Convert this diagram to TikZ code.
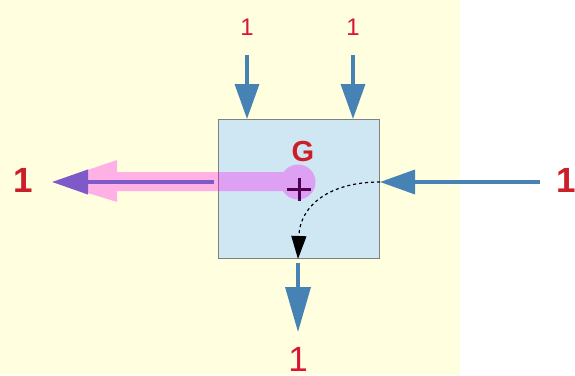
\documentclass[tikz,border=0pt]{standalone}
\usepackage{fontspec}
\setmainfont{Liberation Sans}
\usetikzlibrary{arrows.meta}
\definecolor{fondjaune}{RGB}{255, 255, 224}
\definecolor{bleuclair}{RGB}{207, 230, 243}
\definecolor{grisbord}{RGB}{128, 128, 128}
\definecolor{bleuacier}{RGB}{70, 130, 180}
\definecolor{rougevif}{RGB}{204, 30, 40}
\definecolor{cramoisi}{RGB}{220, 20, 60}
\definecolor{rosevif}{RGB}{255, 6, 243}
\definecolor{violetmoyen}{RGB}{125, 90, 200}
\definecolor{violetfonce}{RGB}{80, 0, 80}
\tikzset{
  fleche/.style={draw=bleuacier, line width=3.5pt,
    -{Triangle[width=24pt, length=35pt, fill=bleuacier]}},
  petitun/.style={text=cramoisi, font=\fontsize{24}{28}\selectfont},
  grandun/.style={text=rougevif, font=\fontsize{35}{40}\selectfont\bfseries},
}
\begin{document}
\begin{tikzpicture}[x=1pt, y=-1pt]
  \useasboundingbox (0,0) rectangle (575,375);
  \fill[fondjaune] (0,0) rectangle (460,375);

  % la plaque
  \node[draw=grisbord, line width=1pt, fill=bleuclair, anchor=north west,
        minimum width=161pt, minimum height=139pt, inner sep=0pt] (plaque) at (218,119) {};

  % efforts en haut
  \coordinate (haut1) at (247,55);
  \coordinate (haut2) at (353,55);
  \draw[fleche] (haut1) -- (haut1 |- plaque.north);
  \draw[fleche] (haut2) -- (haut2 |- plaque.north);
  \node[petitun] (lhaut1) at (247,27) {1};
  \node[petitun] (lhaut2) at (353,27) {1};

  % effort a droite
  \coordinate (droite) at (540,182);
  \draw[fleche] (droite) -- (droite -| plaque.east);
  \node[grandun] (ldroite) at (566,180) {1};

  % effort en bas
  \coordinate (bas) at (298,332);
  \draw[fleche, -{Triangle[width=25pt, length=45pt, fill=bleuacier]}]
    ([yshift=-4pt]bas |- plaque.south) -- (bas);
  \node[petitun, font=\fontsize{35}{40}\selectfont] (lbas) at (298,359) {1};

  % resultante vers la gauche
  \coordinate (centreG) at (298,182);
  \coordinate (pointe) at (52,182);
  \fill[rosevif, opacity=0.31]
    (centreG |- 0,172) rectangle (117,191)
    (117,160) -- (pointe) -- (117,202) -- cycle
    (centreG) circle[radius=17.5];
  \draw[violetmoyen, line width=4pt,
        -{Triangle[width=24pt, length=36pt, fill=violetmoyen]}]
    ([xshift=-4pt]pointe -| plaque.west) -- (pointe);
  \node[grandun] (lgauche) at (23,180) {1};

  % point G
  \draw[violetfonce, line width=3pt] (287,189.5) -- (311,189.5) (299,178) -- (299,201);
  \node[text=rougevif, font=\fontsize{29}{34}\selectfont\bfseries] (nomG) at (303,152) {G};

  % transport vers le bas
  \draw[black, line width=1.2pt, dash pattern=on 3pt off 3pt,
        -{Triangle[width=15pt, length=23pt, fill=black]}]
    (droite -| plaque.east) .. controls (330,182) and (300,205) .. (bas |- plaque.south);
\end{tikzpicture}
\end{document}
